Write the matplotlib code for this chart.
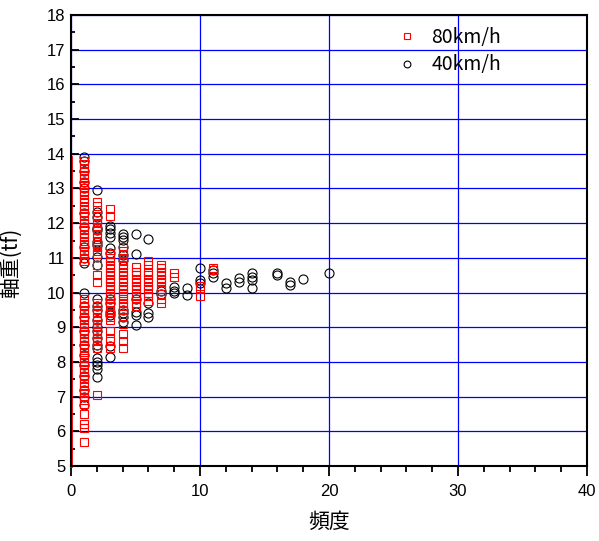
import matplotlib
matplotlib.use('Agg')
import matplotlib.pyplot as plt
from matplotlib.ticker import MultipleLocator

# axle weight (tf) listed by observed frequency, 80 km/h
w80 = {
    1: [13.8, 13.7, 13.6, 13.5, 13.4, 13.3, 13.2, 13.1, 13.0, 12.9, 12.8, 12.7, 12.6, 12.5, 12.4,
        12.3, 12.2, 12.1, 12.0, 11.9, 11.8, 11.7, 11.6, 11.5, 11.4, 11.3, 11.2, 11.1, 11.0, 10.9,
        9.8, 9.7, 9.6, 9.5, 9.4, 9.3, 9.2, 9.1, 9.0, 8.9, 8.8, 8.7, 8.6, 8.5, 8.4, 8.3, 8.2, 8.1,
        8.0, 7.9, 7.8, 7.7, 7.6, 7.5, 7.4, 7.3, 7.2, 7.1, 7.0, 6.9, 6.8, 6.5, 6.2, 6.1, 5.7],
    2: [12.6, 12.5, 12.2, 12.1, 12.0, 11.9, 11.8, 11.7, 11.6, 11.5, 11.4, 11.3, 11.2, 11.1, 10.8,
        10.5, 10.3, 9.7, 9.6, 9.5, 9.4, 9.3, 9.2, 9.1, 9.0, 8.9, 8.8, 8.7, 8.6, 8.5, 8.4, 7.05],
    3: [12.4, 12.2, 11.1, 11.0, 10.9, 10.8, 10.7, 10.6, 10.5, 10.4, 10.3, 10.2, 10.1, 10.0, 9.9,
        9.8, 9.7, 9.6, 9.5, 9.4, 9.3, 9.2, 8.9, 8.7, 8.6, 8.4],
    4: [11.3, 11.2, 11.1, 11.0, 10.9, 10.8, 10.7, 10.6, 10.5, 10.4, 10.3, 10.2, 10.1, 10.0, 9.9,
        9.8, 9.7, 9.6, 9.5, 9.3, 9.1, 8.8, 8.6, 8.4],
    5: [10.75, 10.6, 10.5, 10.4, 10.3, 10.2, 10.1, 10.0, 9.9, 9.8, 9.7, 9.6],
    6: [10.9, 10.8, 10.6, 10.5, 10.4, 10.3, 10.2, 10.1, 10.0, 9.9, 9.75],
    7: [10.8, 10.7, 10.6, 10.5, 10.4, 10.3, 10.2, 10.1, 9.95, 9.8, 9.7],
    8: [10.55, 10.45],
    10: [10.2, 10.1, 9.9],
    11: [10.7, 10.65],
}
zero80 = [5.0, 13.9]  # weight range with frequency 0 (80 km/h)

# axle weight (tf) listed by observed frequency, 40 km/h
w40 = {
    1: [13.9, 13.8, 13.5, 13.2, 13.0, 12.3, 11.9, 11.3, 11.0, 10.85, 9.98, 9.6, 9.3, 8.9, 8.5,
        8.2, 7.9, 7.6, 7.2, 7.0, 6.75],
    2: [12.97, 12.33, 12.18, 11.86, 11.8, 11.46, 11.37, 11.03, 10.79, 9.8, 9.6, 9.5, 9.2, 9.0,
        8.9, 8.7, 8.5, 8.4, 8.1, 8.0, 7.9, 7.8, 7.57],
    3: [11.92, 11.82, 11.71, 11.61, 11.27, 11.14, 9.8, 9.7, 9.45, 9.35, 8.45, 8.15],
    4: [11.68, 11.59, 11.51, 11.3, 11.08, 10.95, 9.5, 9.4, 9.3, 9.15],
    5: [11.68, 11.1, 9.8, 9.45, 9.35, 9.06],
    6: [11.53, 9.7, 9.4, 9.3],
    7: [10.05, 9.95],
    8: [10.15, 10.05, 10.0],
    9: [10.13, 9.93],
    10: [10.7, 10.36, 10.27],
    11: [10.65, 10.56, 10.45],
    12: [10.27, 10.13],
    13: [10.42, 10.3],
    14: [10.55, 10.46, 10.36, 10.13],
    16: [10.55, 10.5],
    17: [10.31, 10.22],
    18: [10.39],
    20: [10.57],
}

def flatten(d):
    xs, ys = [], []
    for f, ws in d.items():
        xs += [f] * len(ws)
        ys += ws
    return xs, ys

x80, y80 = flatten(w80)
x40, y40 = flatten(w40)

plt.rcParams['font.family'] = ['Liberation Sans', 'DejaVu Sans']

fig = plt.figure(figsize=(5.99, 5.41), dpi=100)
ax = fig.add_axes([71/599, 1-466/541, 516/599, 451/541])

ax.plot([0, 0], zero80, color='red', lw=2, clip_on=False, zorder=2)
ax.plot(x40, y40, ls='none', marker='o', ms=6.5, mfc='none', mec='black', mew=0.8,
        label='40km/h', zorder=3)
ax.plot(x80, y80, ls='none', marker='s', ms=5.8, mfc='none', mec='red', mew=0.8,
        label='80km/h', zorder=4)

ax.set_xlim(0, 40)
ax.set_ylim(5, 18)
ax.xaxis.set_major_locator(MultipleLocator(10))
ax.xaxis.set_minor_locator(MultipleLocator(2))
ax.yaxis.set_major_locator(MultipleLocator(1))
ax.yaxis.set_minor_locator(MultipleLocator(0.5))
ax.grid(True, which='major', color='#0000ff', lw=0.9)
ax.set_axisbelow(True)

ax.tick_params(axis='x', which='major', direction='out', length=7, width=1.3, labelsize=12, pad=6)
ax.tick_params(axis='x', which='minor', direction='out', length=4, width=1.3)
ax.tick_params(axis='y', which='major', direction='in', length=6, width=1.3, labelsize=12, pad=4)
ax.tick_params(axis='y', which='minor', direction='in', length=3, width=1.3)
for s in ax.spines.values():
    s.set_linewidth(1.5)

jp = ['Noto Sans CJK JP', 'DejaVu Sans']
ax.set_xlabel('頻度', family=jp, fontsize=15)
ax.set_ylabel('軸重(tf)', family=jp, fontsize=15)
ax.xaxis.set_label_coords(0.5, -0.1)
ax.yaxis.set_label_coords(-0.095, 0.45)

handles, labels = ax.get_legend_handles_labels()
ax.legend(handles[::-1], labels[::-1], loc='upper left', bbox_to_anchor=(0.58, 1.012),
          frameon=False, prop={'family': jp, 'size': 14}, handletextpad=0.25,
          labelspacing=0.32, markerscale=0.75)

fig.savefig('out.png', dpi=100)
